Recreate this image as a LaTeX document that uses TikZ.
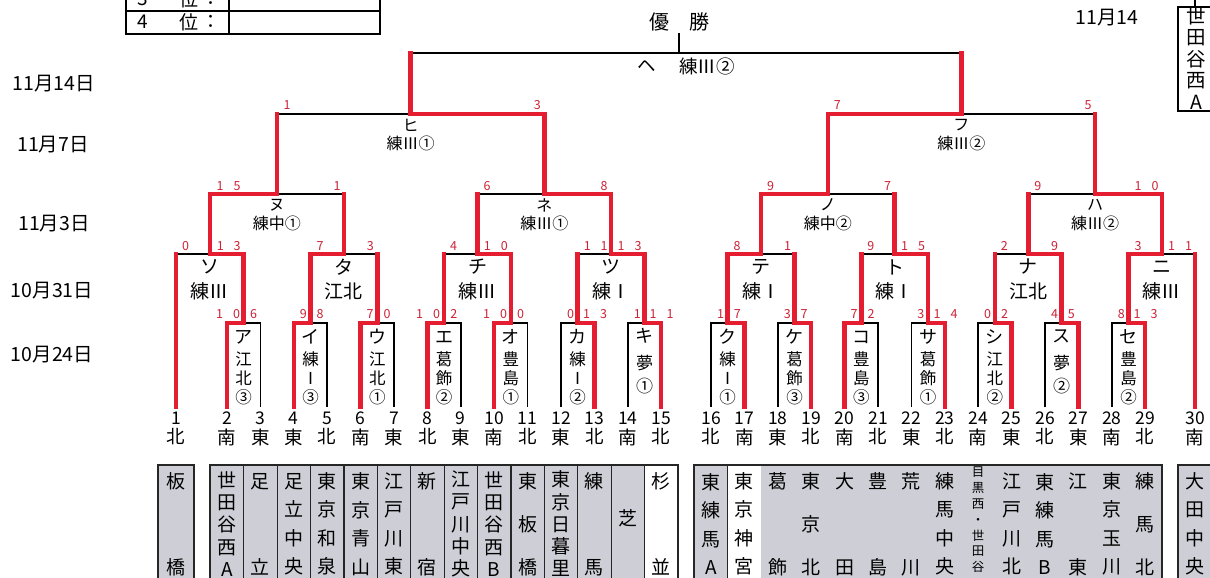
\documentclass[tikz,border=0pt]{standalone}
\usepackage{fontspec}
\setmainfont{Noto Sans CJK JP}
\usetikzlibrary{calc}
\definecolor{wred}{RGB}{228,30,48}
\definecolor{sred}{RGB}{205,35,55}
\definecolor{boxgrey}{RGB}{206,206,214}
\newcommand\dd[2]{#1\hspace{10pt}#2}
\newcommand\fsz[2]{\fontsize{#1}{#2}\selectfont}
\newcommand\bk[3]{\draw[thinl] (#2) -- (#2 |- #1) -- (#3 |- #1) -- (#3);}
\newcommand\win[2]{\draw[redl] (#2) -- (#2 |- #1) -- (#1);}
\newcommand\reach[2]{\draw[redl] (#2) -- (#2 |- #1);}
\begin{document}
\begin{tikzpicture}[x=1pt,y=-1pt,
 thinl/.style={draw=black,line width=1.5pt},
 redl/.style={draw=wred,line width=4.5pt,line cap=rect,line join=miter},
 score/.style={text=sred,font=\fsz{12.5}{13},inner sep=0pt},
 kat1/.style={font=\fsz{18}{18},inner sep=0pt},
 ven1/.style={font=\fsz{16.5}{19},align=center,inner sep=0pt},
 ven1b/.style={font=\fsz{17}{23},align=center,inner sep=0pt},
 lab2/.style={font=\fsz{19}{19},inner sep=0pt},
 lab3/.style={font=\fsz{16}{16},inner sep=0pt},
 datel/.style={font=\fsz{19.5}{19.5},inner sep=0pt},
 tnum/.style={font=\fsz{17.5}{17.5},inner sep=0pt},
 treg/.style={font=\fsz{18.5}{18.5},inner sep=0pt},
 tname/.style={align=center,inner sep=0pt},
 colline/.style={draw=black!85,line width=1.2pt},
 grp/.style={draw=black!85,line width=2pt},
 tabl/.style={draw=black,line width=1.8pt},
]
\useasboundingbox (0,0) rectangle (1210,578);
\fill[white] (0,0) rectangle (1210,578);
\clip (0,0) rectangle (1210,578);

% ---------- team coordinates ----------
\coordinate (t1) at (176,407);
\foreach \k in {2,...,15} \coordinate (t\k) at ({227+(\k-2)*33.4},407);
\foreach \k in {16,...,29} \coordinate (t\k) at ({711+(\k-16)*33.4},407);
\coordinate (t30) at (1195,407);

% ---------- match coordinates ----------
\coordinate (mA) at (243.7,323);
\coordinate (mI) at (310.5,323);
\coordinate (mU) at (377.3,323);
\coordinate (mE) at (444.1,323);
\coordinate (mO) at (510.9,323);
\coordinate (mKa) at (577.7,323);
\coordinate (mKi) at (644.5,323);
\coordinate (mKu) at (727.7,323);
\coordinate (mKe) at (794.5,323);
\coordinate (mKo) at (861.3,323);
\coordinate (mSa) at (928.1,323);
\coordinate (mShi) at (994.9,323);
\coordinate (mSu) at (1061.7,323);
\coordinate (mSe) at (1128.5,323);
\coordinate (mSo) at (209.85,254);
\coordinate (mTa) at (343.9,254);
\coordinate (mChi) at (477.5,254);
\coordinate (mTsu) at (611.1,254);
\coordinate (mTe) at (761.1,254);
\coordinate (mTo) at (894.7,254);
\coordinate (mNa) at (1028.3,254);
\coordinate (mNi) at (1161.75,254);
\coordinate (mNu) at (276.9,194);
\coordinate (mNe) at (544.3,194);
\coordinate (mNo) at (827.9,194);
\coordinate (mHa) at (1095,194);
\coordinate (mHi) at (410.6,114);
\coordinate (mFu) at (961.45,114);
\coordinate (mHe) at (679,53);
\coordinate (champ) at (679,33);

% ---------- black bracket ----------
\bk{mA}{t2}{t3} \bk{mI}{t4}{t5} \bk{mU}{t6}{t7} \bk{mE}{t8}{t9}
\bk{mO}{t10}{t11} \bk{mKa}{t12}{t13} \bk{mKi}{t14}{t15}
\bk{mKu}{t16}{t17} \bk{mKe}{t18}{t19} \bk{mKo}{t20}{t21} \bk{mSa}{t22}{t23}
\bk{mShi}{t24}{t25} \bk{mSu}{t26}{t27} \bk{mSe}{t28}{t29}
\bk{mSo}{t1}{mA} \bk{mTa}{mI}{mU} \bk{mChi}{mE}{mO} \bk{mTsu}{mKa}{mKi}
\bk{mTe}{mKu}{mKe} \bk{mTo}{mKo}{mSa} \bk{mNa}{mShi}{mSu} \bk{mNi}{mSe}{t30}
\bk{mNu}{mSo}{mTa} \bk{mNe}{mChi}{mTsu} \bk{mNo}{mTe}{mTo} \bk{mHa}{mNa}{mNi}
\bk{mHi}{mNu}{mNe} \bk{mFu}{mNo}{mHa}
\bk{mHe}{mHi}{mFu}
\draw[thinl] (mHe) -- (champ);

% ---------- red winner paths ----------
\win{mA}{t2} \win{mI}{t4} \win{mU}{t6} \win{mE}{t8} \win{mO}{t10}
\win{mKa}{t13} \win{mKi}{t15} \win{mKu}{t17} \win{mKe}{t19} \win{mKo}{t20}
\win{mSa}{t23} \win{mShi}{t25} \win{mSu}{t27} \win{mSe}{t29}
\win{mSo}{mA} \reach{mSo}{t1}
\win{mTa}{mI} \reach{mTa}{mU}
\win{mChi}{mO} \reach{mChi}{mE}
\win{mTsu}{mKi} \reach{mTsu}{mKa}
\win{mTe}{mKu} \reach{mTe}{mKe}
\win{mTo}{mSa} \reach{mTo}{mKo}
\win{mNa}{mSu} \reach{mNa}{mShi}
\win{mNi}{mSe} \reach{mNi}{t30}
\win{mNu}{mSo} \reach{mNu}{mTa}
\win{mNe}{mTsu} \reach{mNe}{mChi}
\win{mNo}{mTe} \reach{mNo}{mTo}
\win{mHa}{mNi} \reach{mHa}{mNa}
\win{mHi}{mNe} \reach{mHi}{mNu}
\win{mFu}{mNo} \reach{mFu}{mHa}
\reach{mHe}{mHi} \reach{mHe}{mFu}

% ---------- scores ----------
\foreach \x/\y/\t [count=\i] in {
 228/314/\dd10, 253.5/314/6, 303.3/314/9, 320.2/314/8, 370.1/314/7, 387/314/0,
 428/314/\dd10, 453.8/314/2, 495/314/\dd10, 520.6/314/0, 570.5/314/0, 595/314/\dd13,
 637.3/314/1, 661.5/314/\dd11, 720.5/314/1, 737.4/314/7, 787.3/314/3, 804.2/314/7,
 854.1/314/7, 871/314/2, 920.9/314/3, 945.5/314/\dd14, 987.7/314/0, 1004.6/314/2,
 1054.5/314/4, 1071.4/314/5, 1121.3/314/8, 1145.5/314/\dd13,
 185.5/246/0, 228.7/246/\dd13, 320/246/7, 370.3/246/3, 453.6/246/4, 495.9/246/\dd10,
 595.7/246/\dd11, 629.5/246/\dd13, 737.2/246/8, 787.5/246/1, 870.8/246/9, 913.1/246/\dd15,
 1004.4/246/2, 1054.7/246/9, 1138/246/3, 1180/246/\dd11,
 228.5/186/\dd15, 337/186/1, 487/186/6, 604/186/8, 770.6/186/9, 887.7/186/7,
 1037.8/186/9, 1146.5/186/\dd10,
 287/105/1, 537.3/105/3, 837.4/105/7, 1088/105/5}
 {\node[score] (sc\i) at (\x,\y) {\t};}

% ---------- first round venue labels ----------
\foreach \m/\k/\v in {mA/ア/{江\\北\\③}, mI/イ/{練\\Ⅰ\\③}, mU/ウ/{江\\北\\①},
 mE/エ/{葛\\飾\\②}, mO/オ/{豊\\島\\①}, mKa/カ/{練\\Ⅰ\\②}, mKu/ク/{練\\Ⅰ\\①},
 mKe/ケ/{葛\\飾\\③}, mKo/コ/{豊\\島\\③}, mSa/サ/{葛\\飾\\①}, mShi/シ/{江\\北\\②},
 mSe/セ/{豊\\島\\②}}
 {\node[kat1] (k\m) at ($(\m)+(0,14)$) {\k};
  \node[ven1] (v\m) at ($(\m)+(0,55)$) {\v};}
\foreach \m/\k/\v in {mKi/キ/{夢\\①}, mSu/ス/{夢\\②}}
 {\node[kat1] (k\m) at ($(\m)+(0,13)$) {\k};
  \node[ven1b] (v\m) at ($(\m)+(0,52)$) {\v};}

% ---------- second round labels ----------
\foreach \m/\k/\v in {mSo/ソ/練Ⅲ, mTa/タ/江北, mChi/チ/練Ⅲ, mTsu/ツ/練Ⅰ,
 mTe/テ/練Ⅰ, mTo/ト/練Ⅰ, mNa/ナ/江北, mNi/ニ/練Ⅲ}
 {\node[lab2] (k\m) at ($(\m)+(0,13)$) {\k};
  \node[lab2] (v\m) at ($(\m)+(0,37)$) {\v};}

% ---------- third / fourth round labels ----------
\foreach \m/\k/\v in {mNu/ヌ/練中①, mNe/ネ/練Ⅲ①, mNo/ノ/練中②, mHa/ハ/練Ⅲ②,
 mHi/ヒ/練Ⅲ①, mFu/フ/練Ⅲ②}
 {\node[lab3] (k\m) at ($(\m)+(0,11)$) {\k};
  \node[lab3] (v\m) at ($(\m)+(0,29)$) {\v};}

% ---------- final ----------
\node[font=\fsz{18.5}{18.5},inner sep=0pt] (kHe) at (647,66) {ヘ};
\node[font=\fsz{18.5}{18.5},inner sep=0pt] (vHe) at (707,66) {練Ⅲ②};
\node[font=\fsz{20}{20},inner sep=0pt] (yusho) at (679.5,22) {優　勝};

% ---------- dates ----------
\node[datel] (d1) at (54,84) {11月14日};
\node[datel] (d2) at (53,145) {11月7日};
\node[datel] (d3) at (54,224) {11月3日};
\node[datel] (d4) at (52,291) {10月31日};
\node[datel] (d5) at (52,355) {10月24日};

% ---------- top-left table ----------
\draw[tabl] (126,-12) rectangle (380,34);
\draw[tabl] (126,11) -- (380,11);
\draw[tabl] (229,-12) -- (229,34);
\node[font=\fsz{19}{19},inner sep=0pt] (p3n) at (143,-1) {3};
\node[font=\fsz{19}{19},inner sep=0pt] (p3i) at (189,-1) {位};
\node[font=\fsz{19}{19},inner sep=0pt] (p3c) at (211,-1) {：};
\node[font=\fsz{19}{19},inner sep=0pt] (p4n) at (143,22) {4};
\node[font=\fsz{19}{19},inner sep=0pt] (p4i) at (189,22) {位};
\node[font=\fsz{19}{19},inner sep=0pt] (p4c) at (211,22) {：};

% ---------- top-right ----------
\node[font=\fsz{19.5}{19.5},inner sep=0pt] (trdate) at (1107,18) {11月14};
\draw[thinl] (1178,7) rectangle (1216,111);
\draw[thinl] (1195,-2) -- (1195,7);
\node[tname,font=\fsz{19.5}{21.5}] (trname) at (1196,58) {世\\田\\谷\\西\\A};

% ---------- team numbers and regions ----------
\foreach \k/\r in {1/北,2/南,3/東,4/東,5/北,6/南,7/東,8/北,9/東,10/南,11/北,12/東,
 13/北,14/南,15/北,16/北,17/南,18/東,19/北,20/南,21/北,22/東,23/北,24/南,25/東,
 26/北,27/東,28/南,29/北,30/南}
 {\node[tnum] (n\k) at (t\k |- 0,418) {\k};
  \node[treg] (r\k) at (t\k |- 0,437) {\r};}

% ---------- team name boxes ----------
\fill[boxgrey] (158,465) rectangle (194,590);
\fill[boxgrey] (210.3,465) rectangle (677.9,590);
\fill[boxgrey] (694.3,465) rectangle (1161.9,590);
\fill[boxgrey] (1178,465) rectangle (1212,590);
\fill[white] ($(t15 |- 0,465)+(-16.7,0)$) rectangle ($(t15 |- 0,590)+(16.7,0)$);
\fill[white] ($(t17 |- 0,465)+(-16.7,0)$) rectangle ($(t17 |- 0,590)+(16.7,0)$);
\foreach \k in {2,...,14,16,...,28}
 \draw[colline] ($(t\k |- 0,465)+(16.7,0)$) -- ($(t\k |- 0,590)+(16.7,0)$);
\draw[grp] (158,465) rectangle (194,590);
\draw[grp] (210.3,465) rectangle (677.9,590);
\draw[grp] (694.3,465) rectangle (1161.9,590);
\draw[grp] (1178,465) rectangle (1212,590);

\foreach \k/\p/\nm in {
1/86/{板\\橋}, 2/22.25/{世\\田\\谷\\西\\A}, 3/86/{足\\立},
4/28.5/{足\\立\\中\\央}, 5/28.5/{東\\京\\和\\泉}, 6/28.5/{東\\京\\青\\山},
7/28.5/{江\\戸\\川\\東}, 8/86/{新\\宿}, 9/22.25/{江\\戸\\川\\中\\央},
10/22.25/{世\\田\\谷\\西\\B}, 11/43/{東\\板\\橋}, 12/22.25/{東\\京\\日\\暮\\里},
13/86/{練\\馬}, 15/86/{杉\\並}, 16/28.5/{東\\練\\馬\\A}, 17/28.5/{東\\京\\神\\宮},
18/86/{葛\\飾}, 19/43/{東\\京\\北}, 20/86/{大\\田}, 21/86/{豊\\島}, 22/86/{荒\\川},
23/28.5/{練\\馬\\中\\央}, 25/28.5/{江\\戸\\川\\北}, 26/28.5/{東\\練\\馬\\B},
27/86/{江\\東}, 28/28.5/{東\\京\\玉\\川}, 29/43/{練\\馬\\北}, 30/28.5/{大\\田\\中\\央}}
 {\node[tname,font=\fsz{19}{\p}] (nm\k) at (t\k |- 0,524) {\nm};}
\node[tname,font=\fsz{19}{19}] (nm14) at (t14 |- 0,518) {芝};
\node[tname,font=\fsz{12.5}{15.8}] (nm24) at (t24 |- 0,520) {目\\黒\\西\\・\\世\\田\\谷};
\end{tikzpicture}
\end{document}
